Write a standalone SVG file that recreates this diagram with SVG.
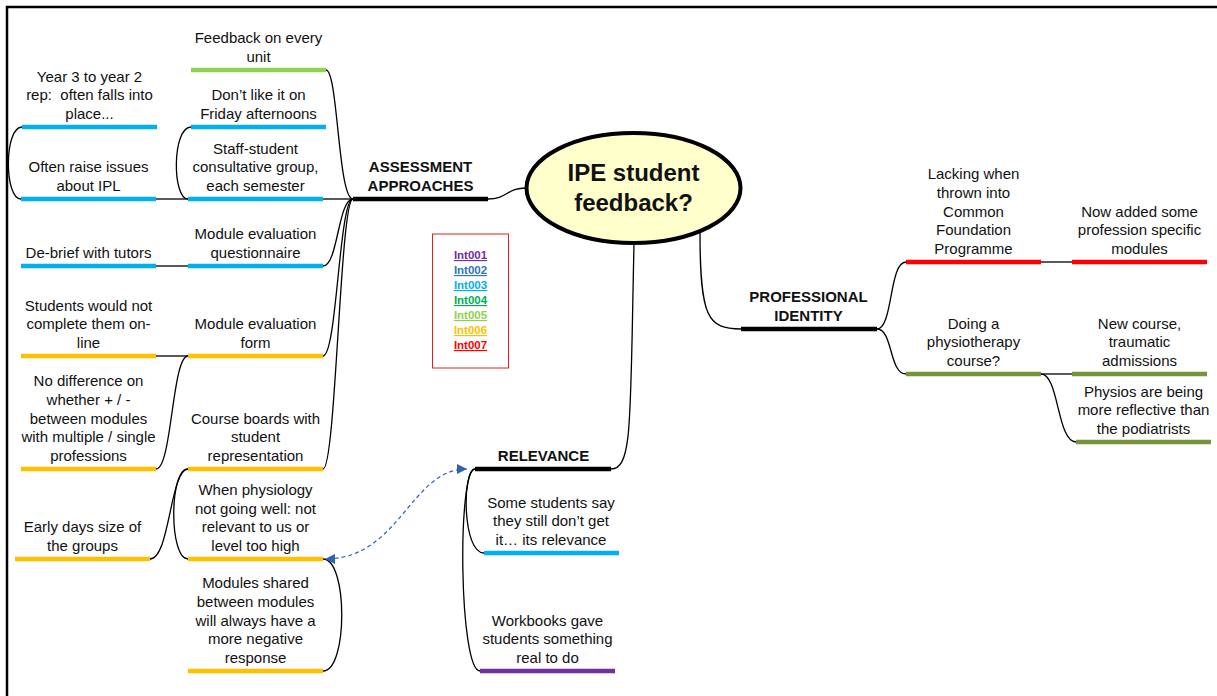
<svg xmlns="http://www.w3.org/2000/svg" width="1217" height="696" viewBox="0 0 1217 696">
  <style>
    .t { font-family: "Liberation Sans", Arial, sans-serif; font-size: 15px; fill: #111; text-anchor: middle; }
    .b { font-weight: bold; }
    .u { stroke-width: 4.3; fill: none; }
    .blue { stroke: #00B0F0; }
    .yellow { stroke: #FFC000; }
    .green { stroke: #92D050; }
    .red { stroke: #FF0000; }
    .olive { stroke: #77933C; }
    .purple { stroke: #7030A0; }
    .black { stroke: #000; }
    .c { fill: none; stroke: #000; stroke-width: 1.3; }
    .lg { font-family: "Liberation Sans", Arial, sans-serif; font-size: 11.5px; font-weight: bold; text-anchor: middle; text-decoration: underline; }
  </style>
  <defs>
    <marker id="arr" viewBox="0 0 10 10" refX="10" refY="5" markerWidth="10" markerHeight="10" markerUnits="userSpaceOnUse" orient="auto-start-reverse">
      <path d="M0,0 L10,5 L0,10 Z" fill="#2F63B0"/>
    </marker>
  </defs>

  <rect width="1217" height="696" fill="#fff"/>
  <!-- page frame (top and left edges) -->
  <path d="M7,700 L7,7 L1220,7" fill="none" stroke="#000" stroke-width="2.5"/>

  <g id="connectors">
    <!-- centre to main branches -->
    <path class="c" d="M488,199 C507,199 507,188 526,188"/>
    <path class="c" d="M634,244 C630,420 633,469 611,469"/>
    <path class="c" d="M700,233 C700,318 708,329 741,329"/>
    <!-- assessment approaches hub -->
    <path class="c" d="M353,199 C338,199 338,70 326,70"/>
    <path class="c" d="M323,199 L353,199"/>
    <path class="c" d="M353,199 C338,199 338,266 323,266"/>
    <path class="c" d="M353,199 C339,199 337,356 323,356"/>
    <path class="c" d="M353,199 C340,199 336,469 323,469"/>
    <!-- second level, assessment side -->
    <path class="c" d="M188,199 C172,199 172,127 191,127"/>
    <path class="c" d="M156,199 L188,199"/>
    <path class="c" d="M21,199 C4,199 4,127 22,127"/>
    <path class="c" d="M156,266 L188,266"/>
    <path class="c" d="M156,356 L188,356"/>
    <path class="c" d="M188,356 C172,356 172,469 156,469"/>
    <path class="c" d="M188,469 C170,469 170,559 150,559"/>
    <path class="c" d="M188,469 C169,469 169,559 188,559"/>
    <path class="c" d="M323,559 C348,559 348,671 323,671"/>
    <!-- relevance -->
    <path class="c" d="M475,469 C462,469 462,553 484,553"/>
    <path class="c" d="M475,469 C457,469 459,671 480,671"/>
    <!-- professional identity -->
    <path class="c" d="M877,329 C893,329 889,262 906,262"/>
    <path class="c" d="M877,329 C893,329 889,374 906,374"/>
    <path class="c" d="M1041,262 L1072,262"/>
    <path class="c" d="M1041,374 L1072,374"/>
    <path class="c" d="M1041,374 C1059,374 1057,442 1076,442"/>
    <!-- cross link -->
    <path d="M467,469 C410,469 400,559 325,559" fill="none" stroke="#2F63B0" stroke-width="1.2" stroke-dasharray="4,3" marker-start="url(#arr)" marker-end="url(#arr)"/>
  </g>

  <g id="central">
    <ellipse cx="633.5" cy="188" rx="107" ry="55" fill="#FFFFCC" stroke="#000" stroke-width="4"/>
    <text class="t b" x="633.5" y="181" style="font-size:24px">IPE student</text>
    <text class="t b" x="633.5" y="211" style="font-size:24px">feedback?</text>
  </g>

  <g id="n-assessment">
    <line class="u black" x1="353" y1="199" x2="488" y2="199"/>
    <text class="t b" x="420.5" y="172.3">ASSESSMENT</text>
    <text class="t b" x="420.5" y="191">APPROACHES</text>
  </g>
  <g id="n-feedback">
    <line class="u green" x1="191" y1="70" x2="326" y2="70"/>
    <text class="t" x="258.5" y="43.3">Feedback on every</text>
    <text class="t" x="258.5" y="62">unit</text>
  </g>
  <g id="n-friday">
    <line class="u blue" x1="191" y1="127" x2="326" y2="127"/>
    <text class="t" x="258.5" y="100.3">Don’t like it on</text>
    <text class="t" x="258.5" y="119">Friday afternoons</text>
  </g>
  <g id="n-year3">
    <line class="u blue" x1="22" y1="127" x2="157" y2="127"/>
    <text class="t" x="89.5" y="81.6">Year 3 to year 2</text>
    <text class="t" x="89.5" y="100.3" style="white-space:pre">rep:  often falls into</text>
    <text class="t" x="89.5" y="119">place...</text>
  </g>
  <g id="n-often">
    <line class="u blue" x1="21" y1="199" x2="156" y2="199"/>
    <text class="t" x="88.5" y="172.3">Often raise issues</text>
    <text class="t" x="88.5" y="191">about IPL</text>
  </g>
  <g id="n-staff">
    <line class="u blue" x1="188" y1="199" x2="323" y2="199"/>
    <text class="t" x="255.5" y="153.6">Staff-student</text>
    <text class="t" x="255.5" y="172.3">consultative group,</text>
    <text class="t" x="255.5" y="191">each semester</text>
  </g>
  <g id="n-questionnaire">
    <line class="u blue" x1="188" y1="266" x2="323" y2="266"/>
    <text class="t" x="255.5" y="239.3">Module evaluation</text>
    <text class="t" x="255.5" y="258">questionnaire</text>
  </g>
  <g id="n-debrief">
    <line class="u blue" x1="21" y1="266" x2="156" y2="266"/>
    <text class="t" x="88.5" y="258">De-brief with tutors</text>
  </g>
  <g id="n-notcomplete">
    <line class="u yellow" x1="21" y1="356" x2="156" y2="356"/>
    <text class="t" x="88.5" y="310.6">Students would not</text>
    <text class="t" x="88.5" y="329.3">complete them on-</text>
    <text class="t" x="88.5" y="348">line</text>
  </g>
  <g id="n-form">
    <line class="u yellow" x1="188" y1="356" x2="323" y2="356"/>
    <text class="t" x="255.5" y="329.3">Module evaluation</text>
    <text class="t" x="255.5" y="348">form</text>
  </g>
  <g id="n-nodiff">
    <line class="u yellow" x1="21" y1="469" x2="156" y2="469"/>
    <text class="t" x="88.5" y="386.2">No difference on</text>
    <text class="t" x="88.5" y="404.9">whether + / -</text>
    <text class="t" x="88.5" y="423.6">between modules</text>
    <text class="t" x="88.5" y="442.3">with multiple / single</text>
    <text class="t" x="88.5" y="461">professions</text>
  </g>
  <g id="n-boards">
    <line class="u yellow" x1="188" y1="469" x2="323" y2="469"/>
    <text class="t" x="255.5" y="423.6">Course boards with</text>
    <text class="t" x="255.5" y="442.3">student</text>
    <text class="t" x="255.5" y="461">representation</text>
  </g>
  <g id="n-early">
    <line class="u yellow" x1="15" y1="559" x2="150" y2="559"/>
    <text class="t" x="82.5" y="532.3">Early days size of</text>
    <text class="t" x="82.5" y="551">the groups</text>
  </g>
  <g id="n-physiology">
    <line class="u yellow" x1="188" y1="559" x2="323" y2="559"/>
    <text class="t" x="255.5" y="494.9">When physiology</text>
    <text class="t" x="255.5" y="513.6">not going well: not</text>
    <text class="t" x="255.5" y="532.3">relevant to us or</text>
    <text class="t" x="255.5" y="551">level too high</text>
  </g>
  <g id="n-shared">
    <line class="u yellow" x1="188" y1="671" x2="323" y2="671"/>
    <text class="t" x="255.5" y="588.2">Modules shared</text>
    <text class="t" x="255.5" y="606.9">between modules</text>
    <text class="t" x="255.5" y="625.6">will always have a</text>
    <text class="t" x="255.5" y="644.3">more negative</text>
    <text class="t" x="255.5" y="663">response</text>
  </g>

  <g id="n-relevance">
    <line class="u black" x1="475" y1="469" x2="611" y2="469"/>
    <text class="t b" x="543.5" y="461">RELEVANCE</text>
  </g>
  <g id="n-some">
    <line class="u blue" x1="484" y1="553" x2="619" y2="553"/>
    <text class="t" x="551" y="507.6">Some students say</text>
    <text class="t" x="551" y="526.3">they still don’t get</text>
    <text class="t" x="551" y="545">it… its relevance</text>
  </g>
  <g id="n-workbooks">
    <line class="u purple" x1="480" y1="671" x2="615" y2="671"/>
    <text class="t" x="547.5" y="625.6">Workbooks gave</text>
    <text class="t" x="547.5" y="644.3">students something</text>
    <text class="t" x="547.5" y="663">real to do</text>
  </g>

  <g id="n-professional">
    <line class="u black" x1="741" y1="329" x2="877" y2="329"/>
    <text class="t b" x="808.5" y="302.3">PROFESSIONAL</text>
    <text class="t b" x="808.5" y="321">IDENTITY</text>
  </g>
  <g id="n-lacking">
    <line class="u red" x1="906" y1="262" x2="1041" y2="262"/>
    <text class="t" x="973.5" y="179.2">Lacking when</text>
    <text class="t" x="973.5" y="197.9">thrown into</text>
    <text class="t" x="973.5" y="216.6">Common</text>
    <text class="t" x="973.5" y="235.3">Foundation</text>
    <text class="t" x="973.5" y="254">Programme</text>
  </g>
  <g id="n-nowadded">
    <line class="u red" x1="1072" y1="262" x2="1207" y2="262"/>
    <text class="t" x="1139.5" y="216.6">Now added some</text>
    <text class="t" x="1139.5" y="235.3">profession specific</text>
    <text class="t" x="1139.5" y="254">modules</text>
  </g>
  <g id="n-doing">
    <line class="u olive" x1="906" y1="374" x2="1041" y2="374"/>
    <text class="t" x="973.5" y="328.6">Doing a</text>
    <text class="t" x="973.5" y="347.3">physiotherapy</text>
    <text class="t" x="973.5" y="366">course?</text>
  </g>
  <g id="n-newcourse">
    <line class="u olive" x1="1072" y1="374" x2="1207" y2="374"/>
    <text class="t" x="1139.5" y="328.6">New course,</text>
    <text class="t" x="1139.5" y="347.3">traumatic</text>
    <text class="t" x="1139.5" y="366">admissions</text>
  </g>
  <g id="n-physios">
    <line class="u olive" x1="1076" y1="442" x2="1211" y2="442"/>
    <text class="t" x="1143.5" y="396.6">Physios are being</text>
    <text class="t" x="1143.5" y="415.3">more reflective than</text>
    <text class="t" x="1143.5" y="434">the podiatrists</text>
  </g>

  <g id="legend">
    <rect x="432.5" y="234" width="76" height="134" fill="none" stroke="#E02020" stroke-width="1"/>
    <text class="lg" x="470.5" y="259" fill="#7030A0">Int001</text>
    <text class="lg" x="470.5" y="274" fill="#2E75B6">Int002</text>
    <text class="lg" x="470.5" y="289" fill="#00B0F0">Int003</text>
    <text class="lg" x="470.5" y="304" fill="#00B050">Int004</text>
    <text class="lg" x="470.5" y="319" fill="#92D050">Int005</text>
    <text class="lg" x="470.5" y="334" fill="#FFC000">Int006</text>
    <text class="lg" x="470.5" y="349" fill="#FF0000">Int007</text>
  </g>
</svg>
